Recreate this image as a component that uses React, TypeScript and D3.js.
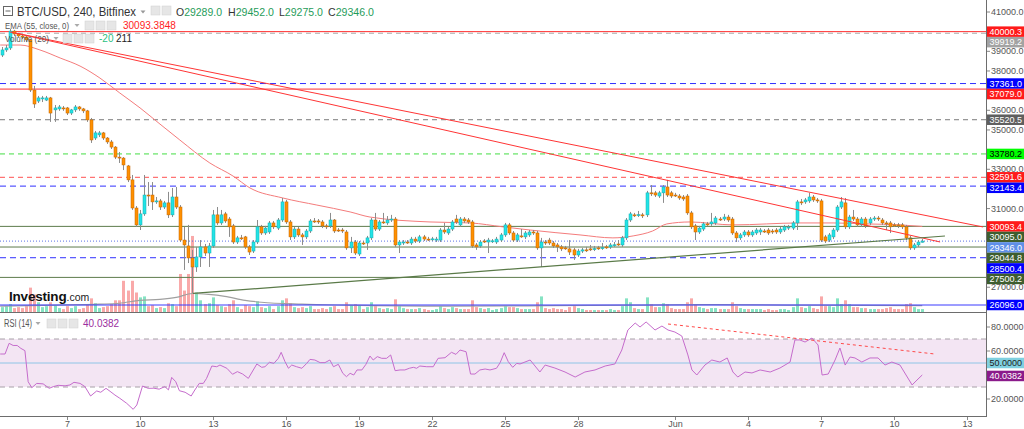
import React from 'react';
import * as d3 from 'd3';

const HOUR = 3600 * 1000;
const candleStart = Date.UTC(2021, 4, 4, 8);

const opens = [
  38810, 39070, 39170, 40030, 39880, 39780, 39730, 39580, 37030, 36470,
  36580, 36520, 36630, 36020, 36070, 36120, 36120, 35860, 36020, 36170,
  36070, 35970, 35510, 34590, 34750, 34850, 34590, 34390, 34130, 33620,
  33570, 33170, 32460, 31030, 30170, 30730, 31690, 31690, 31390, 31390,
  31080, 31290, 30680, 31590, 31080, 29400, 29100, 28490, 28030, 28540,
  29050, 28740, 29100, 30680, 30270, 30730, 30470, 30120, 29300, 29510,
  29560, 29050, 28840, 29300, 30070, 29760, 29810, 30270, 30010, 30420,
  31340, 30320, 29560, 29960, 29660, 29560, 29860, 30370, 30370, 30320,
  30120, 30120, 30420, 29910, 29910, 29810, 29000, 29300, 28690, 29250,
  29250, 29510, 30420, 29960, 30320, 30270, 30420, 30470, 29150, 29250,
  29300, 29250, 29450, 29350, 29560, 29450, 29450, 29400, 29400, 29910,
  29760, 29960, 30470, 30170, 30470, 30420, 30320, 29150, 29100, 29350,
  29300, 29350, 29300, 29400, 29660, 30170, 29760, 29400, 29610, 29560,
  29660, 29810, 29760, 29000, 29300, 29400, 29250, 29150, 29050, 29000,
  28950, 28900, 28640, 28840, 28900, 28950, 28950, 29000, 29000, 29050,
  29050, 29150, 29200, 29150, 29510, 30420, 30680, 30680, 30680, 30680,
  31800, 31800, 31640, 31800, 32100, 31800, 31690, 31640, 31590, 31640,
  30780, 30120, 29810, 29960, 30220, 30220, 30270, 30470, 30470, 30570,
  30470, 29760, 29510, 29660, 29810, 29660, 29760, 29810, 29860, 29910,
  29860, 29910, 29810, 29910, 30010, 30010, 30270, 31340, 31340, 31390,
  31590, 31440, 31390, 29560, 29400, 29560, 29910, 31080, 31290, 30070,
  30570, 30470, 30170, 30470, 30270, 30470, 30520, 30420, 30270, 30270,
  30170, 30170, 30170, 30070, 29510, 29000, 29150, 29289,
];
const highs = [
  39220, 39320, 40140, 40090, 39930, 39830, 39780, 39630, 37240, 36730,
  36730, 36730, 36680, 36270, 36270, 36220, 36170, 36070, 36270, 36220,
  36120, 36020, 35610, 34950, 34950, 34900, 34640, 34490, 34180, 33880,
  33620, 33220, 32710, 31130, 30930, 32710, 32350, 32350, 31590, 31490,
  31390, 31850, 32050, 32100, 31180, 30070, 30170, 28900, 29050, 29400,
  29200, 29250, 30930, 31080, 30930, 30830, 30570, 30220, 29610, 29660,
  29610, 29150, 29400, 30420, 30170, 30120, 30370, 30370, 30520, 31540,
  31440, 30420, 30070, 30070, 29760, 29960, 30470, 30520, 30470, 30420,
  30220, 30780, 30470, 30010, 30010, 29910, 29560, 29400, 29350, 29350,
  29610, 30520, 30780, 30420, 30780, 30620, 30680, 30570, 29400, 29400,
  29400, 29560, 29560, 29660, 29660, 29560, 29560, 29560, 30010, 30270,
  30070, 30420, 30680, 30570, 30570, 30520, 30420, 29250, 29400, 29450,
  29510, 29450, 29560, 29760, 30270, 30270, 29860, 29760, 29960, 29860,
  29910, 29910, 29860, 29510, 29400, 29510, 29350, 29250, 29150, 29100,
  29400, 29000, 28950, 29000, 29050, 29150, 29100, 29100, 29250, 29150,
  29250, 29300, 29400, 29610, 30520, 30830, 30780, 30880, 30780, 31900,
  32200, 31900, 31900, 32200, 32460, 31900, 31800, 31740, 31690, 31740,
  30880, 30220, 30120, 30320, 30320, 30780, 30620, 30570, 30730, 30680,
  30570, 29860, 29760, 29910, 29910, 29910, 30010, 30010, 29960, 30010,
  29960, 30010, 30070, 30170, 30170, 30370, 31440, 31490, 31540, 31800,
  31690, 31540, 31490, 29660, 29760, 30010, 31180, 31590, 31540, 30680,
  30930, 30570, 30570, 30570, 30570, 30620, 30620, 30520, 30370, 30370,
  30270, 30270, 30270, 30170, 29610, 29250, 29400, 29452,
];
const lows = [
  38710, 38970, 39070, 39780, 39680, 39630, 39470, 36930, 36120, 36370,
  36420, 36470, 35410, 35410, 35970, 35970, 35760, 35760, 35910, 35970,
  35860, 35410, 34340, 34490, 34640, 34490, 34290, 34030, 33520, 33320,
  32960, 32350, 30930, 30070, 29910, 30630, 31130, 30930, 31240, 30930,
  30980, 30520, 30570, 30980, 29300, 27880, 28230, 26710, 27780, 28030,
  28590, 28030, 29000, 30170, 30170, 30270, 29560, 29200, 29200, 29400,
  28950, 28640, 28740, 29200, 29660, 29660, 29710, 29960, 29910, 30320,
  30220, 29400, 29450, 29560, 29150, 29450, 29760, 30270, 30220, 30010,
  29960, 30010, 29760, 29810, 29760, 28900, 28740, 28640, 28590, 29150,
  28900, 29400, 29860, 29860, 30220, 30170, 30320, 29050, 28740, 29150,
  29200, 29150, 29250, 29250, 29350, 29350, 29350, 29300, 29300, 29710,
  29660, 29860, 30220, 30070, 30270, 30220, 29000, 28900, 29000, 29250,
  28740, 29250, 29200, 29300, 29560, 29660, 29300, 29300, 29510, 29450,
  29560, 29660, 28900, 28030, 29150, 29150, 29000, 28790, 28840, 28900,
  28640, 28390, 28540, 28740, 28790, 28840, 28840, 28900, 28900, 28950,
  28950, 29050, 29100, 29050, 29400, 30320, 30570, 30570, 30520, 30570,
  31640, 31590, 31540, 31290, 31590, 31540, 31590, 31440, 31390, 30680,
  29960, 29400, 29710, 29860, 30120, 30120, 30170, 30370, 30370, 30320,
  29660, 29300, 29400, 29560, 29560, 29560, 29660, 29660, 29760, 29660,
  29710, 29710, 29710, 29810, 29910, 29910, 29910, 31180, 31240, 31290,
  31340, 31290, 29300, 29250, 29300, 29450, 29810, 30980, 29960, 29960,
  30370, 30070, 30070, 30010, 30170, 30370, 30370, 30170, 29910, 29760,
  30070, 30010, 29960, 29400, 28900, 28900, 29050, 29275,
];
const closes = [
  39070, 39170, 40030, 39880, 39780, 39730, 39580, 37030, 36320, 36630,
  36630, 36630, 35860, 36120, 36170, 36070, 35860, 36020, 36170, 36070,
  35970, 35510, 34490, 34850, 34850, 34590, 34390, 34130, 33620, 33570,
  33220, 32460, 31030, 30170, 30730, 31690, 31640, 31340, 31390, 31080,
  31290, 30680, 31590, 31080, 29400, 29150, 28490, 28030, 28540, 29050,
  28740, 29100, 30680, 30270, 30680, 30370, 30070, 29300, 29510, 29500,
  29050, 28790, 29300, 30070, 29760, 30010, 30270, 30070, 30420, 31340,
  30320, 29560, 29960, 29660, 29560, 29860, 30370, 30360, 30320, 30120,
  30110, 30420, 29860, 29900, 29860, 29000, 29300, 28740, 29250, 29240,
  29510, 30420, 29960, 30320, 30310, 30420, 30470, 29150, 29300, 29300,
  29290, 29450, 29350, 29560, 29450, 29440, 29460, 29450, 29910, 29810,
  29960, 30320, 30320, 30470, 30370, 30320, 29100, 29050, 29300, 29340,
  29400, 29360, 29450, 29660, 30170, 29760, 29400, 29660, 29600, 29760,
  29810, 29760, 29000, 29300, 29290, 29250, 29100, 29050, 28950, 28990,
  28790, 28640, 28840, 28900, 28890, 28940, 28960, 28990, 29010, 29040,
  29150, 29160, 29190, 29510, 30420, 30730, 30670, 30690, 30630, 31800,
  31790, 31690, 31800, 32100, 31690, 31640, 31680, 31540, 31490, 30780,
  30070, 29810, 30010, 30220, 30210, 30320, 30520, 30460, 30570, 30420,
  29760, 29510, 29660, 29810, 29660, 29810, 29910, 29910, 29850, 29760,
  29810, 29810, 29960, 30070, 30060, 30270, 31340, 31330, 31440, 31590,
  31440, 31390, 29400, 29350, 29660, 29910, 31080, 31340, 30070, 30570,
  30470, 30170, 30470, 30120, 30470, 30520, 30470, 30270, 30260, 30070,
  30160, 30120, 30070, 29510, 29000, 29150, 29300, 29346,
];
const volumes = [
  350, 420, 560, 280, 350, 280, 420, 1750, 1260, 700,
  350, 420, 700, 490, 280, 210, 420, 280, 420, 210,
  280, 560, 980, 630, 280, 350, 420, 560, 840, 840,
  2240, 1540, 2240, 1400, 1050, 1120, 420, 490, 280, 350,
  280, 630, 560, 420, 2730, 1540, 2730, 5460, 1400, 840,
  560, 630, 1050, 490, 420, 350, 560, 840, 350, 210,
  490, 420, 350, 770, 350, 280, 420, 210, 420, 840,
  980, 630, 350, 280, 350, 280, 420, 210, 210, 280,
  210, 350, 420, 210, 210, 700, 490, 560, 490, 210,
  350, 700, 420, 280, 210, 280, 210, 910, 420, 280,
  210, 210, 210, 280, 210, 140, 140, 210, 420, 280,
  210, 350, 280, 210, 210, 210, 840, 350, 280, 210,
  280, 140, 210, 280, 420, 350, 350, 280, 210, 210,
  210, 210, 700, 1120, 280, 210, 280, 210, 210, 140,
  350, 420, 280, 210, 140, 140, 140, 140, 140, 140,
  210, 140, 140, 420, 980, 700, 280, 210, 210, 1050,
  560, 350, 350, 630, 560, 280, 210, 210, 210, 700,
  980, 560, 350, 280, 210, 280, 280, 210, 210, 210,
  700, 420, 280, 210, 210, 210, 210, 210, 140, 210,
  140, 140, 210, 210, 140, 350, 980, 350, 280, 420,
  280, 210, 1120, 420, 420, 350, 980, 560, 840, 560,
  350, 350, 280, 280, 210, 210, 210, 210, 280, 350,
  210, 210, 210, 560, 630, 350, 210, 211,
];

// EMA(55) readings: candle position -> value
const emaIdx = [-0.4, 4.5, 9.4, 14.4, 19.3, 24.2, 29.1, 34.1, 39, 43.9, 51.3, 57, 61.2, 69.3, 77.7, 85.9, 90.8, 105.6, 115.5, 123.6, 130.3, 142.6, 150.7, 155.7, 160.5, 164, 169.7, 180.3, 196.8, 205, 213.4, 221.5, 227];
const emaVal = [39320, 39320, 39070, 38660, 38250, 37640, 36880, 36120, 35300, 34490, 33320, 32660, 32050, 31540, 31180, 30830, 30570, 30320, 30270, 30070, 29910, 29660, 29510, 29610, 29860, 30220, 30320, 30170, 30270, 30270, 30220, 30170, 30093.38];
const emaLast = 30093.3848;

// Volume MA(20) readings
const vmaIdx = [-0.4, 14, 24, 29, 34, 39, 43, 47, 51, 55, 60, 64, 74, 85, 110, 135, 155, 175, 200, 227];
const vmaVal = [420, 490, 560, 630, 840, 910, 1050, 1330, 1260, 1120, 840, 700, 560, 490, 420, 455, 490, 525, 490, 455];

// RSI(14) readings
const rsiIdx = [
  -0.4, 0.8, 1.8, 2.8, 3.8, 4.7, 5.7, 6.5, 7.4, 8.6, 10.2, 11.7, 12.7, 13.9, 15.6, 16.8, 17.8, 19.3, 20.5, 21.9,
  23.4, 24.4, 25.7, 26.7, 27.9, 29.1, 30.8, 32.4, 33.3, 34.7, 36.1, 37.5, 38.8, 40.2, 41.1, 41.9, 42.9, 43.8, 45.2, 46.7,
  47.6, 48.7, 49.7, 50.5, 51.8, 53, 53.8, 55.5, 56.9, 58.1, 59.4, 60.8, 62.9, 64.1, 64.9, 66, 67.1, 68.2, 68.9, 69.8,
  70.7, 71.5, 72.7, 74, 75.2, 76, 77.2, 78.5, 79.7, 80.9, 81.8, 83, 84.1, 85, 85.9, 86.8, 87.6, 88.8, 89.8, 90.8,
  91.6, 92.6, 93.7, 94.9, 95.9, 97, 98.2, 99.4, 100.5, 101.5, 102.3, 103.1, 104.8, 106.4, 107.6, 109.3, 110.9, 112, 113, 114.5,
  115.6, 116.7, 117.9, 119.2, 120.4, 122, 122.9, 123.9, 124.9, 126, 127, 127.8, 130.3, 132.7, 134, 136.4, 138.9, 141.4, 143.8, 146.3,
  148.8, 151.2, 152.9, 154.4, 156.2, 157.4, 158.9, 161.1, 162.8, 164.3, 166, 167.7, 169.2, 170.2, 171.4, 173.4, 175.1, 177.1, 178.9, 180.3,
  181.5, 183.3, 185, 187, 189.5, 191.9, 194.4, 195.6, 196.8, 198.1, 199.8, 201.3, 202.3, 203.8, 205.5, 206.7, 208, 209.2, 210.4, 212.1,
  214.1, 216.1, 217.8, 219.5, 221.5, 223, 224.5, 225.7, 227,
];
const rsiVal = [
  57.5, 57.5, 66.4, 64.6, 64.6, 62.2, 60.3, 34.4, 29.4, 33, 32.6, 28.9, 30.3, 31.4, 31, 31.7, 33.9, 33, 30.3, 22.5,
  26.7, 25.6, 28.9, 26.4, 23.3, 20.6, 16.4, 11.4, 15, 30.8, 28.9, 29, 28.2, 30.3, 27.6, 38, 34.4, 26.9, 25.6, 22.5,
  27.5, 33, 33, 37.2, 47.5, 46.9, 48.3, 45.6, 40.6, 42.8, 40.8, 37.2, 49.2, 46.4, 46.9, 50.6, 49.7, 53.9, 58.9, 51.4,
  45.6, 48.3, 46.9, 45.6, 49.7, 53, 52.5, 50.3, 50.3, 52.5, 46.9, 48.9, 41.4, 38.6, 41.4, 40, 44.2, 44.2, 48.9, 55.8,
  52.5, 55.3, 53.9, 53.9, 56.7, 43.6, 44.2, 44.2, 45.6, 46.4, 45.6, 47.5, 46.9, 46.9, 53.9, 54.4, 58.9, 57.2, 60.8, 59.4,
  40.8, 40.8, 44.2, 45, 44.2, 45.6, 50.3, 58.6, 51.1, 46.4, 49.7, 49.2, 52.5, 42.5, 48.3, 45.8, 42.5, 38.3, 42.5, 44.2,
  47.5, 49.2, 60.8, 77.5, 83.3, 80, 84.2, 77.5, 80.8, 77.5, 75.8, 72.5, 56.7, 44.2, 40, 48.3, 52.5, 50.8, 54.2, 42.5,
  38.3, 42.5, 41.7, 44.2, 42.5, 45.8, 50.8, 69.2, 69.2, 67.5, 70.8, 65, 40, 40.8, 52.5, 62.5, 48.3, 55, 54.2, 50.8,
  54.2, 54.2, 48.3, 50.8, 48.3, 40, 31.7, 35.8, 40.0382,
];
const rsiLast = 40.0382;

// Horizontal levels
const levelPrices = [40000.3, 39919.2, 37361.0, 37079.0, 35520.5, 33780.2, 32591.6, 32143.4, 30095.0, 29044.8, 28500.4, 27500.2, 26096.0];
const levelKinds = ['red', 'gray', 'blueDash', 'red', 'darkGray', 'greenDash', 'redDash', 'blueDash', 'olive', 'olive', 'blueDash', 'olive', 'blue'];

// Drawn trend lines: [startIdx, startPrice, endIdx, endPrice]
const redTrendA = [2.0, 39983, 242.0, 30065];
const redTrendB = [3.25, 39932, 231.4, 29302];
const greenTrend = [47.15, 26683, 232.6, 29607];
const rsiTrend = [164.3, 82.5, 230.1, 57.5];

const priceTicks = [26000, 27000, 28000, 29000, 30000, 31000, 32000, 33000, 34000, 35000, 36000, 37000, 38000, 39000, 40000, 41000];
const rsiTicks = [20, 40, 60, 80];
const xTickDates = [
  Date.UTC(2021, 4, 7), Date.UTC(2021, 4, 10), Date.UTC(2021, 4, 13), Date.UTC(2021, 4, 16), Date.UTC(2021, 4, 19),
  Date.UTC(2021, 4, 22), Date.UTC(2021, 4, 25), Date.UTC(2021, 4, 28), Date.UTC(2021, 5, 1), Date.UTC(2021, 5, 4),
  Date.UTC(2021, 5, 7), Date.UTC(2021, 5, 10), Date.UTC(2021, 5, 13),
];
const xTickLabels = ['7', '10', '13', '16', '19', '22', '25', '28', 'Jun', '4', '7', '10', '13'];

const KIND_STYLE: Record<string, { stroke: string; dash?: string; bg: string; fg: string }> = {
  red: { stroke: '#ff2b2b', bg: '#ff1a1a', fg: '#fff' },
  gray: { stroke: '#a8a8a8', dash: '5,4', bg: '#a3a3a3', fg: '#fff' },
  blueDash: { stroke: '#3030ff', dash: '6,4', bg: '#0000ff', fg: '#fff' },
  darkGray: { stroke: '#7a7a7a', dash: '5,4', bg: '#5f5f5f', fg: '#fff' },
  greenDash: { stroke: '#44dd44', dash: '5,4', bg: '#00ff00', fg: '#000' },
  redDash: { stroke: '#ff5050', dash: '5,4', bg: '#ff1a1a', fg: '#fff' },
  olive: { stroke: '#5d7b4c', bg: '#3e5e2f', fg: '#fff' },
  blue: { stroke: '#3a3aff', bg: '#0000ff', fg: '#fff' },
};

const FONT = "Arial, 'Liberation Sans', sans-serif";

export default function App() {
  const W = 1024, H = 429, R = 986;
  const t = (i: number) => new Date(candleStart + i * 4 * HOUR);
  const x = d3.scaleUtc().domain([t(-0.444), t(242.72)]).range([0, R]);
  const y = d3.scaleLinear().domain([26096, 41000]).range([305, 12]);
  const yv = d3.scaleLinear().domain([0, 5600]).range([312, 234]);
  const yr = d3.scaleLinear().domain([20, 80]).range([399, 327]);
  const n = Math.min(opens.length, highs.length, lows.length, closes.length);

  const emaLine = d3.line<number>().x((i) => x(t(emaIdx[i]))).y((i) => y(emaVal[i])).curve(d3.curveMonotoneX);
  const vmaLine = d3.line<number>().x((i) => x(t(vmaIdx[i]))).y((i) => yv(vmaVal[i])).curve(d3.curveMonotoneX);
  const rsiLine = d3.line<number>().x((i) => x(t(rsiIdx[i]))).y((i) => yr(rsiVal[i]));

  const candles = d3.range(n).map((i) => {
    const xc = Math.round(x(t(i)));
    const up = closes[i] >= opens[i];
    const yo = y(opens[i]), yc = y(closes[i]);
    return { i, xc, up, top: Math.min(yo, yc), h: Math.max(1, Math.abs(yo - yc)), yh: y(highs[i]), yl: y(lows[i]) };
  });

  const lastPrice = closes[n - 1];
  type Lab = { y: number; text: string; bg: string; fg: string; order: number; cy?: number };
  const labs: Lab[] = [];
  levelPrices.forEach((p, k) => {
    const st = KIND_STYLE[levelKinds[k]];
    labs.push({ y: y(p), text: p.toFixed(1), bg: st.bg, fg: st.fg, order: k + 2 });
  });
  labs.push({ y: y(emaLast), text: emaLast.toFixed(1), bg: '#ff1a1a', fg: '#fff', order: 0 });
  labs.push({ y: y(lastPrice), text: lastPrice.toFixed(1), bg: '#5f8fe8', fg: '#fff', order: 1 });
  labs.sort((a, b) => (Math.round(a.y / 2) - Math.round(b.y / 2)) || a.order - b.order);
  const LH = 10.5;
  let prev = -Infinity;
  for (const l of labs) { l.cy = Math.max(l.y, prev + LH); prev = l.cy; }

  // tick labels that a coloured label would fully cover are not drawn
  const covered = (py: number) => labs.some((l) => Math.abs((l.cy as number) - py) < 5);

  const iconBox = (bx: number, by: number, key: string) => (
    <rect key={key} x={bx} y={by} width={9} height={9} fill="#e6e6e6" stroke="#d0d0d0" strokeWidth={0.5} />
  );
  const caret = (cx: number, cy: number, fill: string) => (
    <path d={`M${cx - 2.5},${cy - 1.5} L${cx + 2.5},${cy - 1.5} L${cx},${cy + 1.5} Z`} fill={fill} />
  );
  const lblFont = 9;

  return (
    <svg width={W} height={H} style={{ position: 'absolute', left: 0, top: 0, background: '#fff' }} fontFamily={FONT}>
      <defs>
        <clipPath id="pc"><rect x={0} y={0} width={R} height={312} /></clipPath>
        <clipPath id="rc"><rect x={0} y={313} width={R} height={103} /></clipPath>
      </defs>
      <rect x={0} y={0} width={W} height={H} fill="#fff" />

      {/* Price panel */}
      <g clipPath="url(#pc)">
        {candles.map((c) => (
          <rect key={'v' + c.i} x={c.xc - 1} y={yv(volumes[c.i])} width={3} height={312 - yv(volumes[c.i])}
            fill={c.up ? '#86e3c3' : '#f9a9a9'} />
        ))}
        <path d={vmaLine(d3.range(vmaIdx.length)) || ''} fill="none" stroke="#a0a0a0" strokeWidth={1.2} />

        {levelPrices.map((p, k) => {
          const st = KIND_STYLE[levelKinds[k]];
          return <line key={'l' + k} x1={0} x2={R} y1={y(p)} y2={y(p)} stroke={st.stroke} strokeWidth={1} strokeDasharray={st.dash} />;
        })}
        <line x1={0} x2={R} y1={y(lastPrice)} y2={y(lastPrice)} stroke="#5c73e6" strokeWidth={1} strokeDasharray="1,2" />

        <path d={emaLine(d3.range(emaIdx.length)) || ''} fill="none" stroke="#f47c7c" strokeWidth={1} />

        {candles.map((c) => (
          <g key={'c' + c.i}>
            <line x1={c.xc + 0.5} x2={c.xc + 0.5} y1={c.yh} y2={c.yl} stroke="#8c8c8c" strokeWidth={1} />
            <rect x={c.xc - 1} y={c.top} width={3} height={c.h} fill={c.up ? '#22e3e6' : '#ff9000'}
              stroke={c.up ? '#16aeb0' : '#c26500'} strokeWidth={0.5} />
          </g>
        ))}

        <line x1={x(t(redTrendA[0]))} y1={y(redTrendA[1])} x2={x(t(redTrendA[2]))} y2={y(redTrendA[3])} stroke="#ff3535" strokeWidth={1} />
        <line x1={x(t(redTrendB[0]))} y1={y(redTrendB[1])} x2={x(t(redTrendB[2]))} y2={y(redTrendB[3])} stroke="#ff3535" strokeWidth={1} />
        <line x1={x(t(greenTrend[0]))} y1={y(greenTrend[1])} x2={x(t(greenTrend[2]))} y2={y(greenTrend[3])} stroke="#5a7a48" strokeWidth={1.2} />
      </g>

      {/* panel separator */}
      <line x1={0} x2={R} y1={312.5} y2={312.5} stroke="#6d6d6d" strokeWidth={1} />

      {/* RSI panel */}
      <g clipPath="url(#rc)">
        <rect x={0} y={yr(70)} width={R} height={yr(30) - yr(70)} fill="#f3e5f3" />
        <line x1={0} x2={R} y1={yr(70)} y2={yr(70)} stroke="#a8a0a8" strokeDasharray="5,4" />
        <line x1={0} x2={R} y1={yr(30)} y2={yr(30)} stroke="#a8a0a8" strokeDasharray="5,4" />
        <line x1={0} x2={R} y1={yr(50)} y2={yr(50)} stroke="#8ec5e6" strokeWidth={1} />
        <path d={rsiLine(d3.range(rsiIdx.length)) || ''} fill="none" stroke="#c56ccc" strokeWidth={1} />
        <line x1={x(t(rsiTrend[0]))} y1={yr(rsiTrend[1])} x2={x(t(rsiTrend[2]))} y2={yr(rsiTrend[3])} stroke="#ff4a4a" strokeWidth={1} strokeDasharray="3,3" />
      </g>

      {/* axes */}
      <line x1={R + 0.5} x2={R + 0.5} y1={0} y2={416} stroke="#6d6d6d" />
      <line x1={0} x2={R + 1} y1={416.5} y2={416.5} stroke="#6d6d6d" />
      {xTickDates.map((d, k) => {
        const xx = Math.round(x(new Date(d))) + 0.5;
        return (
          <g key={'xt' + k}>
            <line x1={xx} x2={xx} y1={417} y2={420} stroke="#888" />
            <text x={xx} y={427} fontSize={9} fill="#555" textAnchor="middle">{xTickLabels[k]}</text>
          </g>
        );
      })}
      {priceTicks.filter((p) => y(p) > 4 && y(p) < 310).map((p) => (
        <g key={'pt' + p}>
          <line x1={R + 1} x2={R + 4} y1={y(p)} y2={y(p)} stroke="#888" />
          {!covered(y(p)) && <text x={991} y={y(p)} dy="0.35em" fontSize={lblFont} fill="#555">{p.toFixed(1)}</text>}
        </g>
      ))}
      {rsiTicks.map((r) => (
        <g key={'rt' + r}>
          <line x1={R + 1} x2={R + 4} y1={yr(r)} y2={yr(r)} stroke="#888" />
          {Math.abs(yr(r) - yr(rsiLast)) > 8 && <text x={991} y={yr(r)} dy="0.35em" fontSize={lblFont} fill="#555">{r.toFixed(4)}</text>}
        </g>
      ))}
      {labs.map((l, k) => (
        <g key={'lab' + k}>
          <rect x={987} y={(l.cy as number) - LH / 2} width={37} height={LH} fill={l.bg} />
          <text x={989.5} y={l.cy} dy="0.35em" fontSize={lblFont} fill={l.fg}>{l.text}</text>
        </g>
      ))}
      <rect x={987} y={yr(50) - LH / 2} width={37} height={LH} fill="#80d0e0" />
      <text x={989.5} y={yr(50)} dy="0.35em" fontSize={lblFont} fill="#222">{(50).toFixed(4)}</text>
      <rect x={987} y={yr(rsiLast) + 1 - LH / 2} width={37} height={LH} fill="#8b1a8b" />
      <text x={989.5} y={yr(rsiLast) + 1} dy="0.35em" fontSize={lblFont} fill="#fff">{rsiLast.toFixed(4)}</text>

      {/* header */}
      <rect x={3.5} y={6.5} width={9} height={9} fill="none" stroke="#666" />
      <line x1={5.5} x2={10.5} y1={11} y2={11} stroke="#666" />
      <text x={17} y={16} fontSize={12.5} fill="#333" textLength={119} lengthAdjust="spacingAndGlyphs">BTC/USD, 240, Bitfinex</text>
      {caret(143, 12, '#999')}
      {iconBox(151, 6, 'h1')}{iconBox(162, 6, 'h2')}
      <text x={176} y={16} fontSize={11.5} fill="#333" textLength={46} lengthAdjust="spacingAndGlyphs">O<tspan fill="#1f9c5a">29289.0</tspan></text>
      <text x={228} y={16} fontSize={11.5} fill="#333" textLength={46} lengthAdjust="spacingAndGlyphs">H<tspan fill="#1f9c5a">29452.0</tspan></text>
      <text x={279} y={16} fontSize={11.5} fill="#333" textLength={44} lengthAdjust="spacingAndGlyphs">L<tspan fill="#1f9c5a">29275.0</tspan></text>
      <text x={328} y={16} fontSize={11.5} fill="#333" textLength={46} lengthAdjust="spacingAndGlyphs">C<tspan fill="#1f9c5a">29346.0</tspan></text>

      <text x={5} y={29} fontSize={9.5} fill="#555" textLength={64} lengthAdjust="spacingAndGlyphs">EMA (55, close, 0)</text>
      {caret(77, 25.5, '#aaa')}
      {iconBox(85, 21, 'e1')}{iconBox(96, 21, 'e2')}{iconBox(107, 21, 'e3')}
      <text x={123} y={29} fontSize={10} fill="#f22">30093.3848</text>

      <text x={5} y={42} fontSize={9.5} fill="#555" textLength={44} lengthAdjust="spacingAndGlyphs">Volume (20)</text>
      {caret(56, 38.5, '#aaa')}
      {iconBox(63, 34, 'v1')}{iconBox(74, 34, 'v2')}{iconBox(85, 34, 'v3')}
      <text x={99} y={42} fontSize={10} fill="#2bbf7f">-20</text>
      <text x={116} y={42} fontSize={10} fill="#222">211</text>

      <text x={9} y={301} fill="#111">
        <tspan fontSize={13.5} fontWeight="bold" letterSpacing={-0.2}>Investing</tspan>
        <tspan fontSize={10.5} fill="#222">.com</tspan>
      </text>

      <text x={4} y={327} fontSize={10} fill="#555" textLength={28} lengthAdjust="spacingAndGlyphs">RSI (14)</text>
      {caret(38, 323.5, '#aaa')}
      {iconBox(47, 319, 'r1')}{iconBox(58, 319, 'r2')}{iconBox(69, 319, 'r3')}
      <text x={83} y={327} fontSize={10} fill="#9b2ea0">40.0382</text>
    </svg>
  );
}
